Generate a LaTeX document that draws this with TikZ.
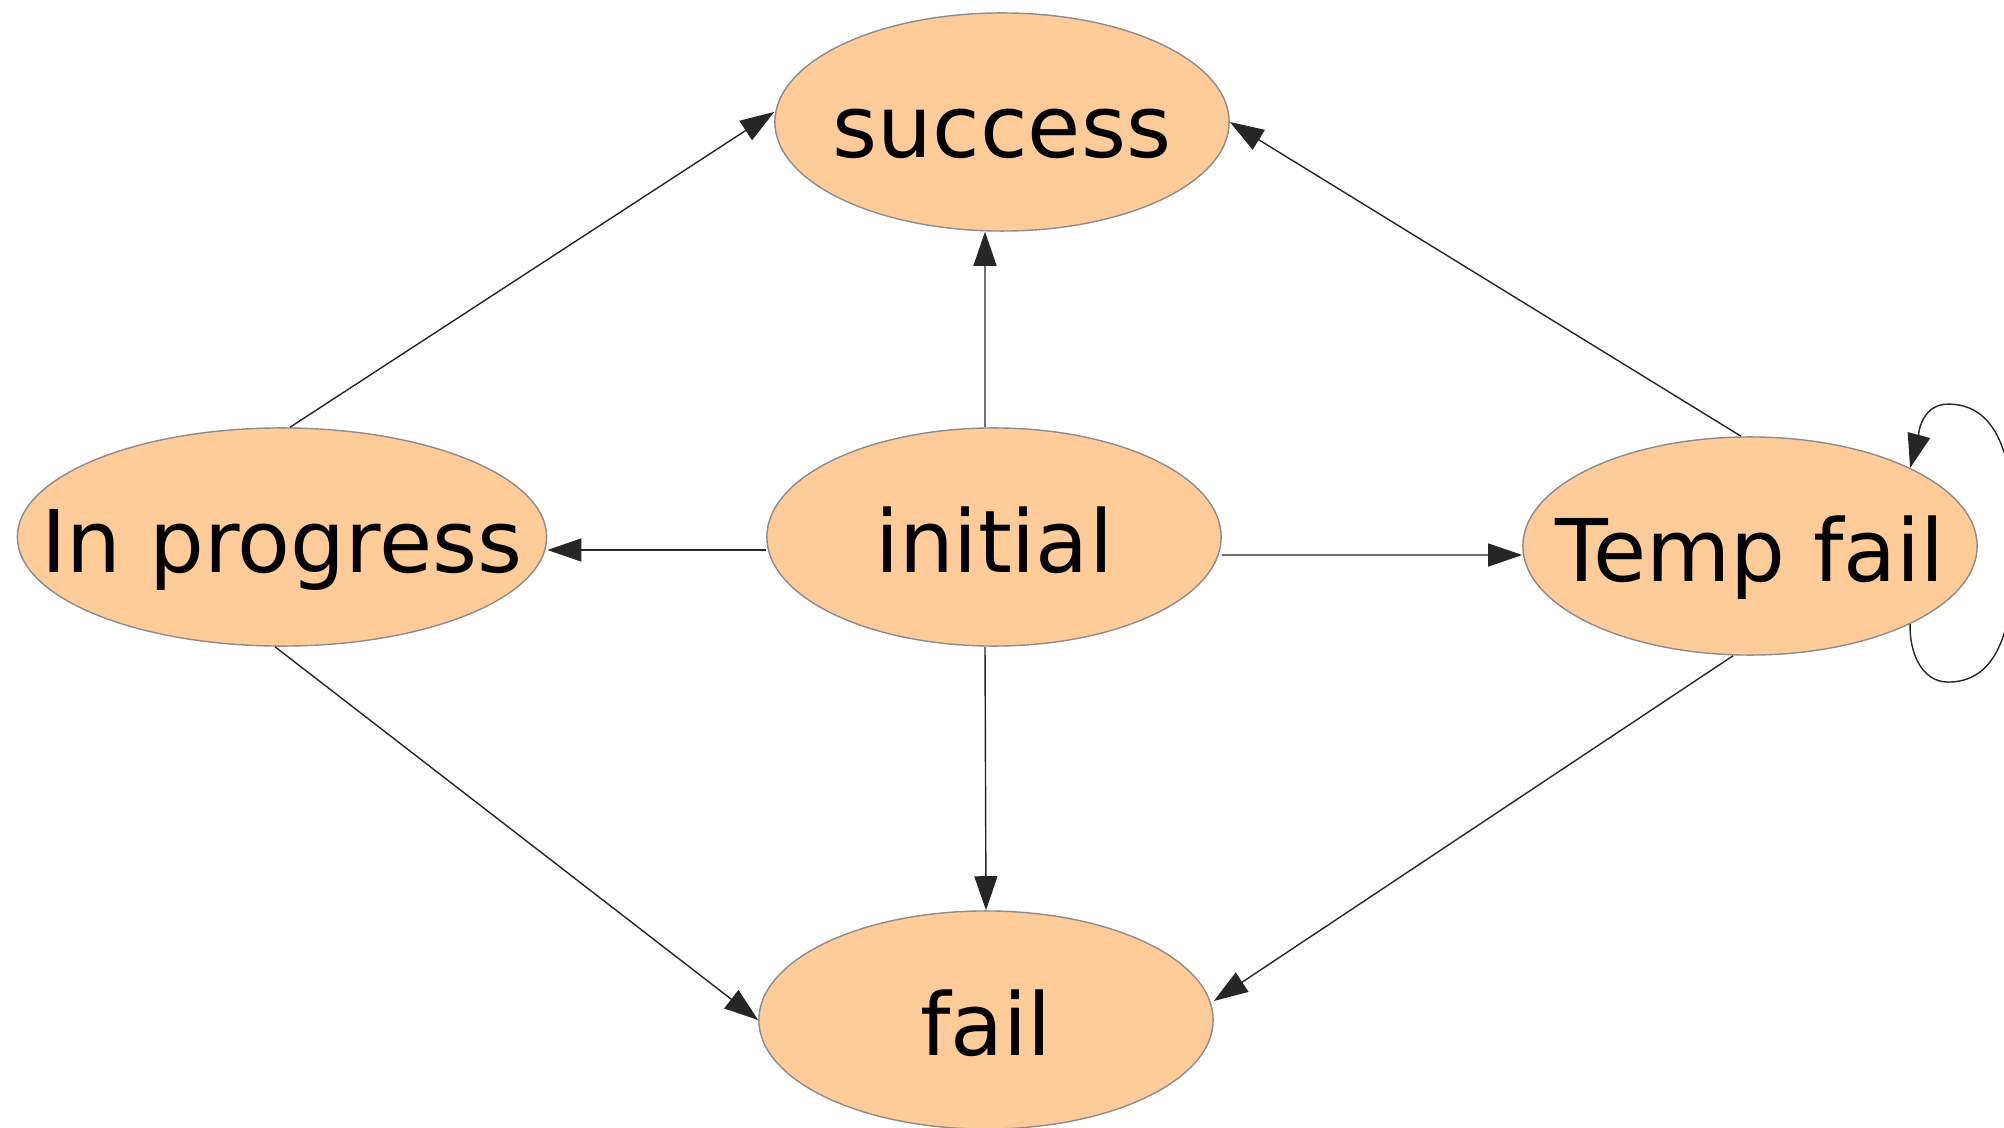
\documentclass[tikz,border=0pt]{standalone}
\usepackage{fontspec}
\setmainfont{DejaVu Sans}
\usetikzlibrary{arrows.meta,shapes.geometric}
\definecolor{statefill}{RGB}{255,204,153}

\tikzset{
  state/.style={ellipse, draw=gray!90, line width=0.4pt, fill=statefill,
    minimum width=4.54cm, minimum height=2.18cm, inner sep=0pt,
    font=\fontsize{24.6}{28}\selectfont, text height=0.9cm, text depth=0.2cm},
  trans/.style={-{Triangle[length=0.34cm,width=0.23cm]}, line width=0.4pt, draw=black!85}
}

\begin{document}
\begin{tikzpicture}[x=0.01cm, y=-0.01cm]
  \useasboundingbox (0,0) rectangle (2004,1128);

  \node[state] (success)  at (1002,122)  {\makebox[0pt]{success}};
  \node[state] (initial)  at (994,537)   {\makebox[0pt]{initial}};
  \node[state, minimum width=5.29cm] (progress) at (282,537) {\makebox[0pt]{In progress}};
  \node[state] (tempfail) at (1750,546)  {\makebox[0pt]{Temp fail}};
  \node[state] (fail)     at (986,1020)  {\makebox[0pt]{fail}};

  % out of initial
  \draw[trans] ([xshift=-0.09cm]initial.north) -- ([xshift=-0.17cm]success.south);
  \draw[trans] ([yshift=-0.13cm]initial.west) -- ([yshift=-0.13cm]progress.east);
  \draw[trans] ([yshift=-0.18cm]initial.east) -- ([yshift=-0.09cm]tempfail.west);
  \draw[trans] ([xshift=-0.09cm]initial.south) -- (fail.north);

  % out of in progress and temp fail
  \draw[trans] ([xshift=0.08cm]progress.north) -- ([yshift=0.1cm]success.west);
  \draw[trans] ([xshift=-0.07cm]progress.south) -- (fail.west);
  \draw[trans] ([xshift=-0.09cm]tempfail.north) -- (success.east);
  \draw[trans] ([xshift=-0.17cm]tempfail.south) -- ([yshift=0.19cm]fail.east);

  % retry loop
  \draw[trans] (tempfail.-26) to[out=-92,in=180] ++(38,58)
    to[out=0,in=-90] ++(66,-139)
    to[out=90,in=0] ++(-66,-139)
    to[out=180,in=75] (tempfail.26);
\end{tikzpicture}
\end{document}
